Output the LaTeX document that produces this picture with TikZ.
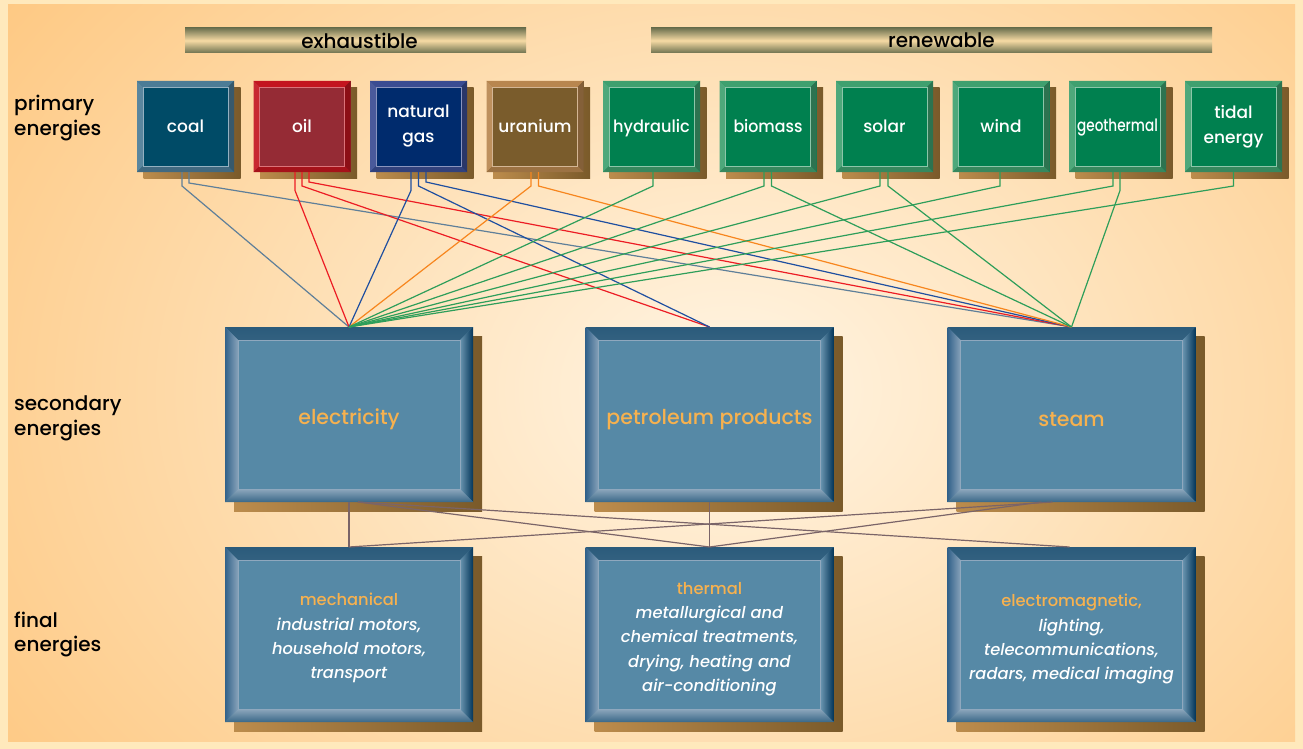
\documentclass[tikz,border=0pt]{standalone}
\usepackage{fontspec}
\usepackage{graphicx}
\setmainfont{Poppins}[UprightFont=* Medium, ItalicFont=* Medium Italic]
\usetikzlibrary{calc}
\definecolor{frameC}{HTML}{FFE9BC}
\definecolor{bgO}{HTML}{FDB75C}
\definecolor{bgL}{HTML}{FFF5E4}
\definecolor{barD}{HTML}{6E7250}
\definecolor{barL}{HTML}{F6DAA4}
\definecolor{shL}{HTML}{BC8C4C}
\definecolor{shR}{HTML}{7A5A2A}
\definecolor{coalF}{HTML}{004B67}
\definecolor{coalR}{HTML}{4C7C96}
\definecolor{oilF}{HTML}{952B35}
\definecolor{oilR}{HTML}{C3151F}
\definecolor{gasF}{HTML}{002B6D}
\definecolor{gasR}{HTML}{3A4C92}
\definecolor{uraF}{HTML}{7A5C2C}
\definecolor{uraR}{HTML}{B8864F}
\definecolor{grnF}{HTML}{00804F}
\definecolor{grnR}{HTML}{3FA06F}
\definecolor{bigF}{HTML}{5689A6}
\definecolor{bevTo}{HTML}{2B5B7B}
\definecolor{bevTi}{HTML}{8FA8BE}
\definecolor{bevLo}{HTML}{32628A}
\definecolor{bevLi}{HTML}{88A3BA}
\definecolor{bevRi}{HTML}{6A95B0}
\definecolor{bevRo}{HTML}{04365A}
\definecolor{bevBi}{HTML}{8DA7BC}
\definecolor{bevBo}{HTML}{3A6888}
\definecolor{orng}{HTML}{F6B14F}
\definecolor{lnCoal}{HTML}{5F7F99}
\definecolor{lnOil}{HTML}{EC1C24}
\definecolor{lnGas}{HTML}{1F4FA0}
\definecolor{lnUra}{HTML}{F7861E}
\definecolor{lnGrn}{HTML}{2E9E5A}
\definecolor{lnLow}{HTML}{7A6468}
\newcommand\myPrimFont{\fontsize{17}{25}\selectfont}
\newcommand\myLabFont{\fontsize{20}{24.5}\selectfont}
\newcommand\mySecFont{\fontsize{20.5}{26}\selectfont}
\newcommand\myFinFont{\fontsize{16.3}{24.3}\selectfont}
\newcommand\myBarFont{\fontsize{20}{24}\selectfont}
\newcommand\lowered[2]{\raisebox{#1}[\height][\depth]{#2}}
\newcommand\shadowof[2]{\shade[left color=shL, right color=shR] ([shift={(#2,-#2)}]#1.north west) rectangle ([shift={(#2,-#2)}]#1.south east);}
\pgfdeclarelayer{bg}
\pgfdeclarelayer{sh}
\pgfsetlayers{bg,sh,main}
\tikzset{
  bev/.style n args={6}{path picture={
    \path[#2] (path picture bounding box.north west) -- (path picture bounding box.north east) -- ([shift={(-#1,-#1)}]path picture bounding box.north east) -- ([shift={(#1,-#1)}]path picture bounding box.north west) -- cycle;
    \path[#3] (path picture bounding box.north west) -- ([shift={(#1,-#1)}]path picture bounding box.north west) -- ([shift={(#1,#1)}]path picture bounding box.south west) -- (path picture bounding box.south west) -- cycle;
    \path[#4] (path picture bounding box.north east) -- (path picture bounding box.south east) -- ([shift={(-#1,#1)}]path picture bounding box.south east) -- ([shift={(-#1,-#1)}]path picture bounding box.north east) -- cycle;
    \path[#5] (path picture bounding box.south west) -- ([shift={(#1,#1)}]path picture bounding box.south west) -- ([shift={(-#1,#1)}]path picture bounding box.south east) -- (path picture bounding box.south east) -- cycle;
    \path[#6] ([shift={(#1,-#1)}]path picture bounding box.north west) rectangle ([shift={(-#1,#1)}]path picture bounding box.south east);
  }},
  prim/.style 2 args={minimum width=97pt, minimum height=91pt, inner sep=0pt, outer sep=0pt,
    fill=#1, text=white, font=\myPrimFont, align=center,
    bev={6pt}{fill=#2}{fill=#2!92!white}{fill=#2!72!black}{fill=#2!85!black}{fill=#1, draw=#2!60!white, line width=0.8pt}},
  big/.style={minimum width=248pt, minimum height=175pt, inner sep=0pt, outer sep=0pt,
    fill=bigF, align=center,
    bev={13pt}{top color=bevTo, bottom color=bevTi}{left color=bevLo, right color=bevLi}{left color=bevRi, right color=bevRo}{top color=bevBi, bottom color=bevBo}{fill=bigF, draw=bevTi, line width=0.8pt}},
  bar/.style={minimum height=25pt, inner sep=0pt, outer sep=0pt, top color=barD, bottom color=barD, middle color=barL, font=\myBarFont, text=black},
  lab/.style={anchor=west, align=left, font=\myLabFont, text=black, inner sep=0pt},
  ln/.style={line width=1.2pt},
  low/.style={line width=1.2pt, draw=lnLow},
}
\begin{document}
\begin{tikzpicture}[x=1pt,y=-1pt]
\useasboundingbox (0,0) rectangle (1303,749);
\begin{pgfonlayer}{bg}
\fill[frameC] (0,0) rectangle (1303,749);
\begin{scope}
\clip (8,5) rectangle (1295,741);
\fill[bgO] (8,5) rectangle (1295,741);
\shade[inner color=bgL, outer color=bgO] (730,390) ellipse [x radius=1250pt, y radius=950pt];
\end{scope}
\end{pgfonlayer}

% bars
\node[bar, minimum width=341pt] (exh) at (355.5,40.5) {\hspace*{8pt}exhaustible};
\node[bar, minimum width=561pt] (ren) at (931.5,40.5) {\hspace*{20pt}renewable};

% side labels
\node[lab] (lprim) at (14,118) {primary\\energies};
\node[lab] (lsec) at (14,418.5) {secondary\\energies};
\node[lab] (lfin) at (14,634.5) {final\\energies};

% primary energies
\node[prim={coalF}{coalR}] (coal) at (185.5,126.5) {coal};
\node[prim={oilF}{oilR}] (oil) at (302,126.5) {oil};
\node[prim={gasF}{gasR}] (gas) at (418.5,126.5) {natural\\gas};
\node[prim={uraF}{uraR}] (ura) at (535,126.5) {uranium};
\node[prim={grnF}{grnR}] (hyd) at (651.5,126.5) {\lowered{-2pt}{\scalebox{0.95}[1]{hydraulic}}};
\node[prim={grnF}{grnR}] (bio) at (768,126.5) {\scalebox{0.93}[1]{biomass}};
\node[prim={grnF}{grnR}] (sol) at (884.5,126.5) {solar};
\node[prim={grnF}{grnR}] (wind) at (1001,126.5) {wind};
\node[prim={grnF}{grnR}] (geo) at (1117.5,126.5) {\lowered{-1.5pt}{\scalebox{0.8}[1]{geothermal}}};
\node[prim={grnF}{grnR}] (tid) at (1233.5,126.5) {tidal\\energy};

% secondary energies
\node[big, font=\mySecFont, text=orng] (elec) at (349,414.5) {\lowered{-5pt}{electricity}};
\node[big, font=\mySecFont, text=orng] (petro) at (709.5,414.5) {\lowered{-5pt}{petroleum products}};
\node[big, font=\mySecFont, text=orng] (steam) at (1071.5,414.5) {\lowered{-5pt}{steam}};

% final energies
\node[big, font=\myFinFont, text=white] (mech) at (349,634.5)
  {\lowered{-3pt}{\begin{tabular}{@{}c@{}}\textcolor{orng}{mechanical}\\\textit{industrial motors,}\\\textit{household motors,}\\\textit{transport}\end{tabular}}};
\node[big, font=\myFinFont, text=white] (therm) at (709.5,634.5)
  {\lowered{-3.5pt}{\begin{tabular}{@{}c@{}}\textcolor{orng}{thermal}\\\textit{metallurgical and}\\\textit{chemical treatments,}\\\textit{drying, heating and}\\\textit{air-conditioning}\end{tabular}}};
\node[big, font=\myFinFont, text=white] (emag) at (1071.5,634.5)
  {\lowered{-4pt}{\begin{tabular}{@{}c@{}}\textcolor{orng}{electromagnetic,}\\\textit{lighting,}\\\textit{telecommunications,}\\\textit{radars, medical imaging}\end{tabular}}};

% shadows
\begin{pgfonlayer}{sh}
\foreach \n in {coal,oil,gas,ura,hyd,bio,sol,wind,geo,tid}{\shadowof{\n}{6.5pt}}
\foreach \n in {elec,petro,steam,mech,therm,emag}{\shadowof{\n}{9pt}}
\end{pgfonlayer}

% primary -> secondary
\draw[ln, lnCoal] ([xshift=-3.5pt]coal.south) -- ++(0,14) -- (elec.north);
\draw[ln, lnCoal] ([xshift=3.5pt]coal.south) -- ++(0,11) -- (steam.north);
\draw[ln, lnOil] ([xshift=-7pt]oil.south) -- ++(0,18.5) -- (elec.north);
\draw[ln, lnOil] (oil.south) -- ++(0,14) -- (petro.north);
\draw[ln, lnOil] ([xshift=7pt]oil.south) -- ++(0,10) -- (steam.north);
\draw[ln, lnGas] ([xshift=-7.5pt]gas.south) -- ++(0,18.5) -- (elec.north);
\draw[ln, lnGas] (gas.south) -- ++(0,14) -- (petro.north);
\draw[ln, lnGas] ([xshift=7.5pt]gas.south) -- ++(0,10) -- (steam.north);
\draw[ln, lnUra] ([xshift=-4pt]ura.south) -- ++(0,14) -- (elec.north);
\draw[ln, lnUra] ([xshift=3.5pt]ura.south) -- ++(0,14) -- (steam.north);
\draw[ln, lnGrn] ([xshift=1.5pt]hyd.south) -- ++(0,14) -- (elec.north);
\draw[ln, lnGrn] ([xshift=-4pt]bio.south) -- ++(0,14) -- (elec.north);
\draw[ln, lnGrn] ([xshift=3.5pt]bio.south) -- ++(0,14) -- (steam.north);
\draw[ln, lnGrn] ([xshift=-4.5pt]sol.south) -- ++(0,14) -- (elec.north);
\draw[ln, lnGrn] ([xshift=3.5pt]sol.south) -- ++(0,14) -- (steam.north);
\draw[ln, lnGrn] ([xshift=-1pt]wind.south) -- ++(0,14) -- (elec.north);
\draw[ln, lnGrn] ([xshift=-4.5pt]geo.south) -- ++(0,14) -- (elec.north);
\draw[ln, lnGrn] ([xshift=2.5pt]geo.south) -- ++(0,18.5) -- (steam.north);
\draw[ln, lnGrn] (tid.south) -- ++(0,14) -- (elec.north);

% secondary -> final
\draw[low] (elec.south) -- (mech.north);
\draw[low] ([xshift=9pt]elec.south) -- (therm.north);
\draw[low] ([xshift=9pt]elec.south) -- ([xshift=-2pt]emag.north);
\draw[low] (petro.south) -- (therm.north);
\draw[low] ([xshift=-19pt]steam.south) -- (mech.north);
\draw[low] ([xshift=-30pt]steam.south) -- (therm.north);
\end{tikzpicture}
\end{document}
